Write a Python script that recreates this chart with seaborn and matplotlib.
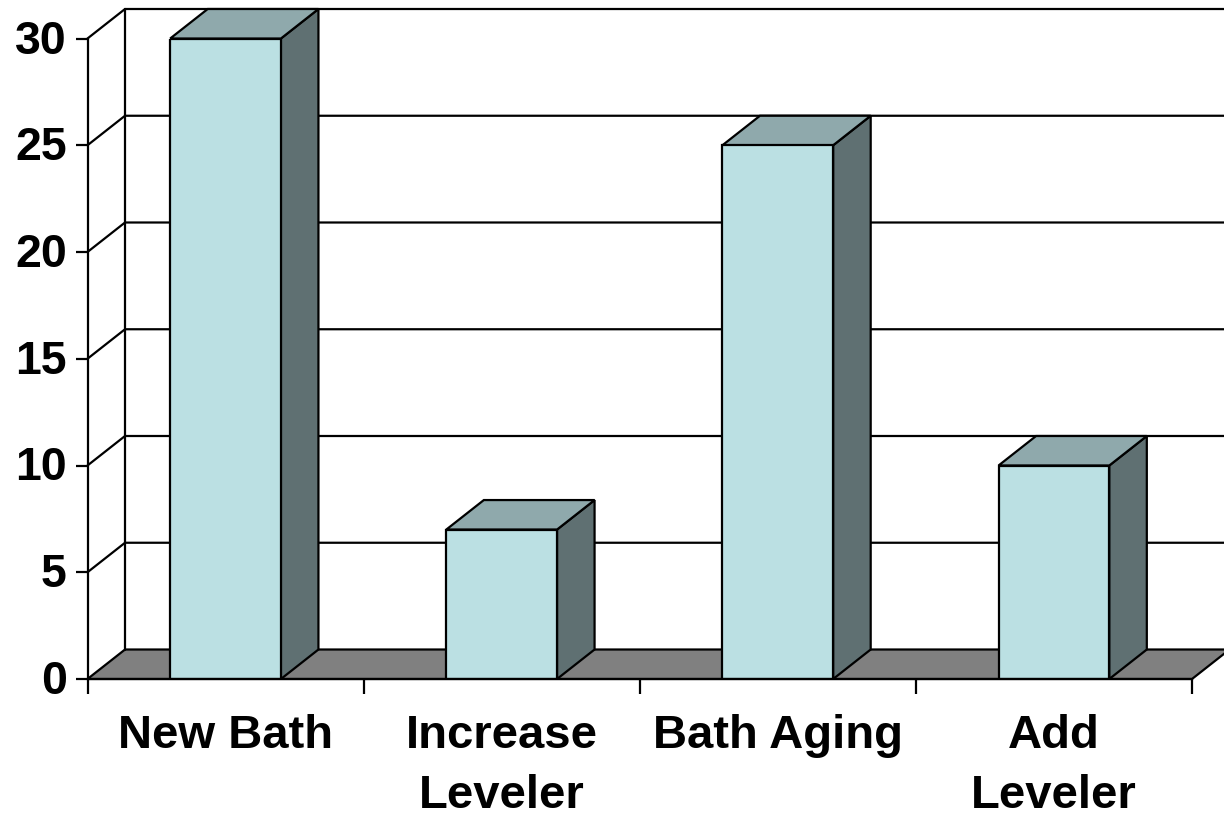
import matplotlib
matplotlib.use("Agg")
import matplotlib.pyplot as plt
from matplotlib.patches import Polygon
from matplotlib.transforms import ScaledTranslation
import pandas as pd
import seaborn as sns

categories = ["New Bath", "Increase\nLeveler", "Bath Aging", "Add\nLeveler"]
values = [30, 7, 25, 10]
y_ticks = [0, 5, 10, 15, 20, 25, 30]

FRONT = "#bbe0e3"
TOP = "#8fa9ac"
SIDE = "#5f7072"
FLOOR = "#808080"
INK = "black"
BAR_WIDTH = 0.401
DEPTH_X = 37.5 / 276
DEPTH_Y = 29.5 / 21.35
LW = 1.6

sns.set_theme(style="white")
plt.rcParams["font.family"] = ["Liberation Sans", "DejaVu Sans"]

W, H = 1224, 815
fig = plt.figure(figsize=(W / 100, H / 100), dpi=100, facecolor="white")
ax = fig.add_axes([87.5 / W, (H - 679) / H, 1104.5 / W, 640.5 / H])
ax.patch.set_visible(False)

frame = pd.DataFrame({"category": categories, "value": values})
sns.barplot(data=frame, x="category", y="value", width=BAR_WIDTH, color=FRONT,
            saturation=1, edgecolor=INK, linewidth=LW, ax=ax, zorder=5)

ax.set_xlim(-0.5, 3.5)
ax.set_ylim(0, 30)
x0, x1 = -0.5, 3.5
# the right edge of the back wall runs off the canvas
xr = x0 + (W - 87.5) / 276

# floor and back wall
ax.add_patch(Polygon([(x0, 0), (x1, 0), (x1 + DEPTH_X, DEPTH_Y), (xr + 1, DEPTH_Y),
                      (x0 + DEPTH_X, DEPTH_Y)], closed=True, facecolor=FLOOR,
                     edgecolor=INK, linewidth=LW, clip_on=False, zorder=2))
ax.plot([x0 + DEPTH_X] * 2, [DEPTH_Y, 30 + DEPTH_Y], color=INK, lw=LW, clip_on=False, zorder=3)
for v in y_ticks[1:]:
    ax.plot([x0, x0 + DEPTH_X, xr], [v, v + DEPTH_Y, v + DEPTH_Y], color=INK, lw=LW,
            clip_on=False, zorder=3, solid_joinstyle="miter")

# side and top faces for each bar
for i, v in enumerate(values):
    l, r = i - BAR_WIDTH / 2, i + BAR_WIDTH / 2
    ax.add_patch(Polygon([(r, 0), (r + DEPTH_X, DEPTH_Y), (r + DEPTH_X, v + DEPTH_Y), (r, v)],
                         closed=True, facecolor=SIDE, edgecolor=INK, linewidth=LW,
                         clip_on=False, zorder=4))
    ax.add_patch(Polygon([(l, v), (r, v), (r + DEPTH_X, v + DEPTH_Y), (l + DEPTH_X, v + DEPTH_Y)],
                         closed=True, facecolor=TOP, edgecolor=INK, linewidth=LW,
                         clip_on=False, zorder=4))

for side in ("top", "right"):
    ax.spines[side].set_visible(False)
for side in ("left", "bottom"):
    ax.spines[side].set_color(INK)
    ax.spines[side].set_linewidth(LW)
    ax.spines[side].set_zorder(6)

ax.set_xlabel("")
ax.set_ylabel("")
ax.set_yticks(y_ticks)
ax.tick_params(axis="y", length=9, width=LW, color=INK, left=True, pad=6,
               labelsize=33.5, labelcolor=INK)
raise_labels = ScaledTranslation(0, 2 / 100, fig.dpi_scale_trans)
for label in ax.get_yticklabels():
    label.set_fontweight("bold")
    label.set_transform(label.get_transform() + raise_labels)

# x ticks mark the category boundaries; names sit at the bar centres
ax.set_xticks([-0.5, 0.5, 1.5, 2.5, 3.5])
ax.set_xticklabels([])
ax.tick_params(axis="x", length=11, width=LW, color=INK, bottom=True)
ax.set_xticks(range(len(categories)), labels=categories, minor=True)
ax.tick_params(axis="x", which="minor", length=0, pad=25, labelsize=34, labelcolor=INK)
for label in ax.get_xticklabels(minor=True):
    label.set_fontweight("bold")
    label.set_linespacing(1.48)

fig.savefig("out.png", dpi=100, facecolor="white")
